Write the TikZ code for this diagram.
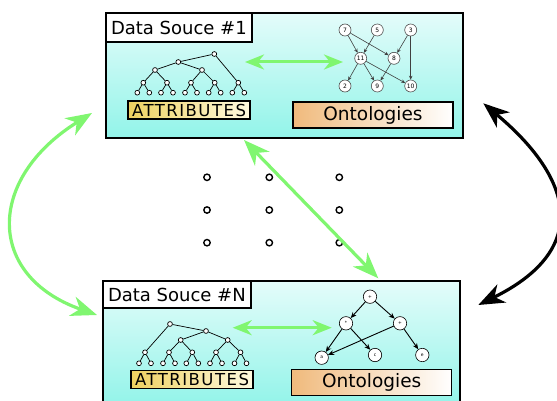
\documentclass[tikz,border=0pt]{standalone}
\usepackage{fontspec}
\setmainfont{DejaVu Sans}
\usetikzlibrary{arrows.meta, positioning}

\definecolor{boxtop}{RGB}{228,252,250}
\definecolor{boxbot}{RGB}{146,244,233}
\definecolor{linkgreen}{RGB}{128,246,112}
\definecolor{attrl}{RGB}{238,208,96}
\definecolor{attrr}{RGB}{255,251,224}
\definecolor{ontol}{RGB}{240,186,124}

\begin{document}
\begin{tikzpicture}[x=1pt, y=1pt,
    source/.style={rectangle, draw, line width=1.5pt, top color=boxtop, bottom color=boxbot, minimum width=357pt, minimum height=125pt},
    title/.style={rectangle, draw, fill=white, line width=1.5pt, inner xsep=5pt, minimum height=29pt, font=\fontsize{18}{20}\selectfont},
    attr/.style={rectangle, draw, line width=1.2pt, left color=attrl, right color=attrr, minimum width=122pt, minimum height=18pt, inner sep=0pt, font=\fontsize{16.5}{18}\selectfont\addfontfeatures{LetterSpace=9}},
    onto/.style={rectangle, draw, line width=1.5pt, left color=ontol, right color=white, minimum width=160pt, minimum height=26pt, inner sep=0pt, font=\fontsize{18.5}{20}\selectfont},
    leaf/.style={circle, draw, fill=white, line width=0.7pt, inner sep=0pt, minimum size=4.8pt},
    tree/.style={line width=0.7pt},
    gnode/.style={circle, draw=black!70, fill=white, line width=0.6pt, inner sep=0pt, minimum size=12pt, font=\fontsize{6}{6}\selectfont},
    garrow/.style={-{Stealth[length=4pt,width=3.5pt]}, line width=0.6pt, black!75},
    onode/.style={circle, draw, fill=white, line width=0.6pt, inner sep=0pt, minimum size=13.4pt, font=\fontsize{4.5}{5}\selectfont},
    oarrow/.style={-{Stealth[length=6pt,width=5pt]}, line width=0.9pt},
    dot/.style={circle, draw, line width=1.4pt, inner sep=0pt, minimum size=6.4pt},
    map/.style={{Stealth[length=19pt,width=15pt,inset=6pt]}-{Stealth[length=19pt,width=15pt,inset=6pt]}, line width=3pt, linkgreen},
    link/.style={{Stealth[length=26pt,width=20pt,inset=8pt]}-{Stealth[length=26pt,width=20pt,inset=8pt]}, line width=3.2pt, linkgreen},
    back/.style={{Stealth[length=26pt,width=20pt,inset=8pt]}-{Stealth[length=26pt,width=20pt,inset=8pt]}, line width=3.2pt, black}]
\useasboundingbox (0,0) rectangle (557,400);
\clip (0,0) rectangle (557,400);

% the two data sources
\node[source] (src1) at (284.5,324.5) {};
\node[source] (srcN) at (281.5,56.5) {};
\node[title, below right=0pt and 0pt of src1.north west] (t1) {Data Souce \#1};
\node[title, below right=0pt and 0pt of srcN.north west, minimum height=27pt] (tN) {Data Souce \#N};

% attribute tree, source 1
\node[leaf] (r1) at (214.3,346) {};
\node[leaf] (u1) at (178.3,338) {};
\node[leaf] (v1) at (155,330) {};
\node[leaf] (w1) at (202,330) {};
\foreach \i/\x in {1/143.3,2/167,3/191,4/214.7,5/238.3} {
  \node[leaf] (k\i) at (\x,317.3) {};
  \node[leaf] (kl\i) at (\x-6,307.3) {};
  \node[leaf] (kr\i) at (\x+6,307.3) {};
  \draw[tree] (kl\i) -- (k\i) -- (kr\i);
}
\draw[tree] (r1) -- (u1) (r1) -- (k5) (u1) -- (v1) (u1) -- (w1)
  (v1) -- (k1) (v1) -- (k2) (w1) -- (k3) (w1) -- (k4);
\node[attr] (at1) at (189,290) {ATTRIBUTES};

% attribute tree, source N
\node[leaf] (r2) at (170,76) {};
\node[leaf] (u2) at (206,69) {};
\node[leaf] (v2) at (180.7,60) {};
\node[leaf] (w2) at (227.7,60) {};
\foreach \i/\x in {1/145,2/169,3/192.3,4/216,5/240.5} {
  \node[leaf] (n\i) at (\x,47.7) {};
  \node[leaf] (nl\i) at (\x-6,36.7) {};
  \node[leaf] (nr\i) at (\x+6,36.7) {};
  \draw[tree] (nl\i) -- (n\i) -- (nr\i);
}
\draw[tree] (r2) -- (n1) (r2) -- (u2) (u2) -- (v2) (u2) -- (w2)
  (v2) -- (n2) (v2) -- (n3) (w2) -- (n4) (w2) -- (n5);
\node[attr] (atN) at (192,20.5) {ATTRIBUTES};

% ontology graph, source 1
\foreach \n/\x/\y in {7/345/370, 5/377.3/370, 3/410.7/370, 11/360.7/341.7, 8/394/341.7,
    2/345/314, 9/377.3/314, 10/410.7/314}
  \node[gnode] (g\n) at (\x,\y) {\n};
\foreach \a/\b in {7/11, 7/8, 5/11, 3/8, 3/10, 11/2, 11/9, 11/10, 8/9}
  \draw[garrow] (g\a) -- (g\b);
\node[onto] (on1) at (373,285) {Ontologies};

% ontology graph, source N
\node[onode] (op) at (370,103.3) {+};
\node[onode] (om) at (346,76.7) {*};
\node[onode] (oq) at (400,76.7) {+};
\node[onode] (oa) at (321.7,42.3) {a};
\node[onode] (oc) at (375,45) {c};
\node[onode] (oe) at (422.3,45) {e};
\foreach \a/\b in {op/om, op/oq, om/oa, om/oc, oq/oa, oq/oe}
  \draw[oarrow] (\a) -- (\b);
\node[onto] (onN) at (371.7,17.5) {Ontologies};

% attributes <-> ontologies
\coordinate (ma1) at (245,338);
\coordinate (mb1) at (343,338);
\coordinate (maN) at (232.7,72.3);
\coordinate (mbN) at (331.7,72.3);
\draw[map] (ma1) -- (mb1);
\draw[map] (maN) -- (mbN);

% the sources in between
\foreach \x [count=\i] in {207,269.3,339.3}
  \foreach \y [count=\j] in {222.7,190,157.3}
    \node[dot] (d\i\j) at (\x,\y) {};

% links between sources
\coordinate (l1) at (92,287);
\coordinate (l2) at (97,85);
\coordinate (c1) at (244,260);
\coordinate (c2) at (378.3,121.7);
\coordinate (q1) at (483.3,296.7);
\coordinate (q2) at (478.3,95);
\draw[link] (l1) .. controls (-14,221) and (-14,124) .. (l2);
\draw[link] (c1) -- (c2);
\draw[back] (q1) .. controls (575,220) and (590,150) .. (q2);
\end{tikzpicture}
\end{document}
